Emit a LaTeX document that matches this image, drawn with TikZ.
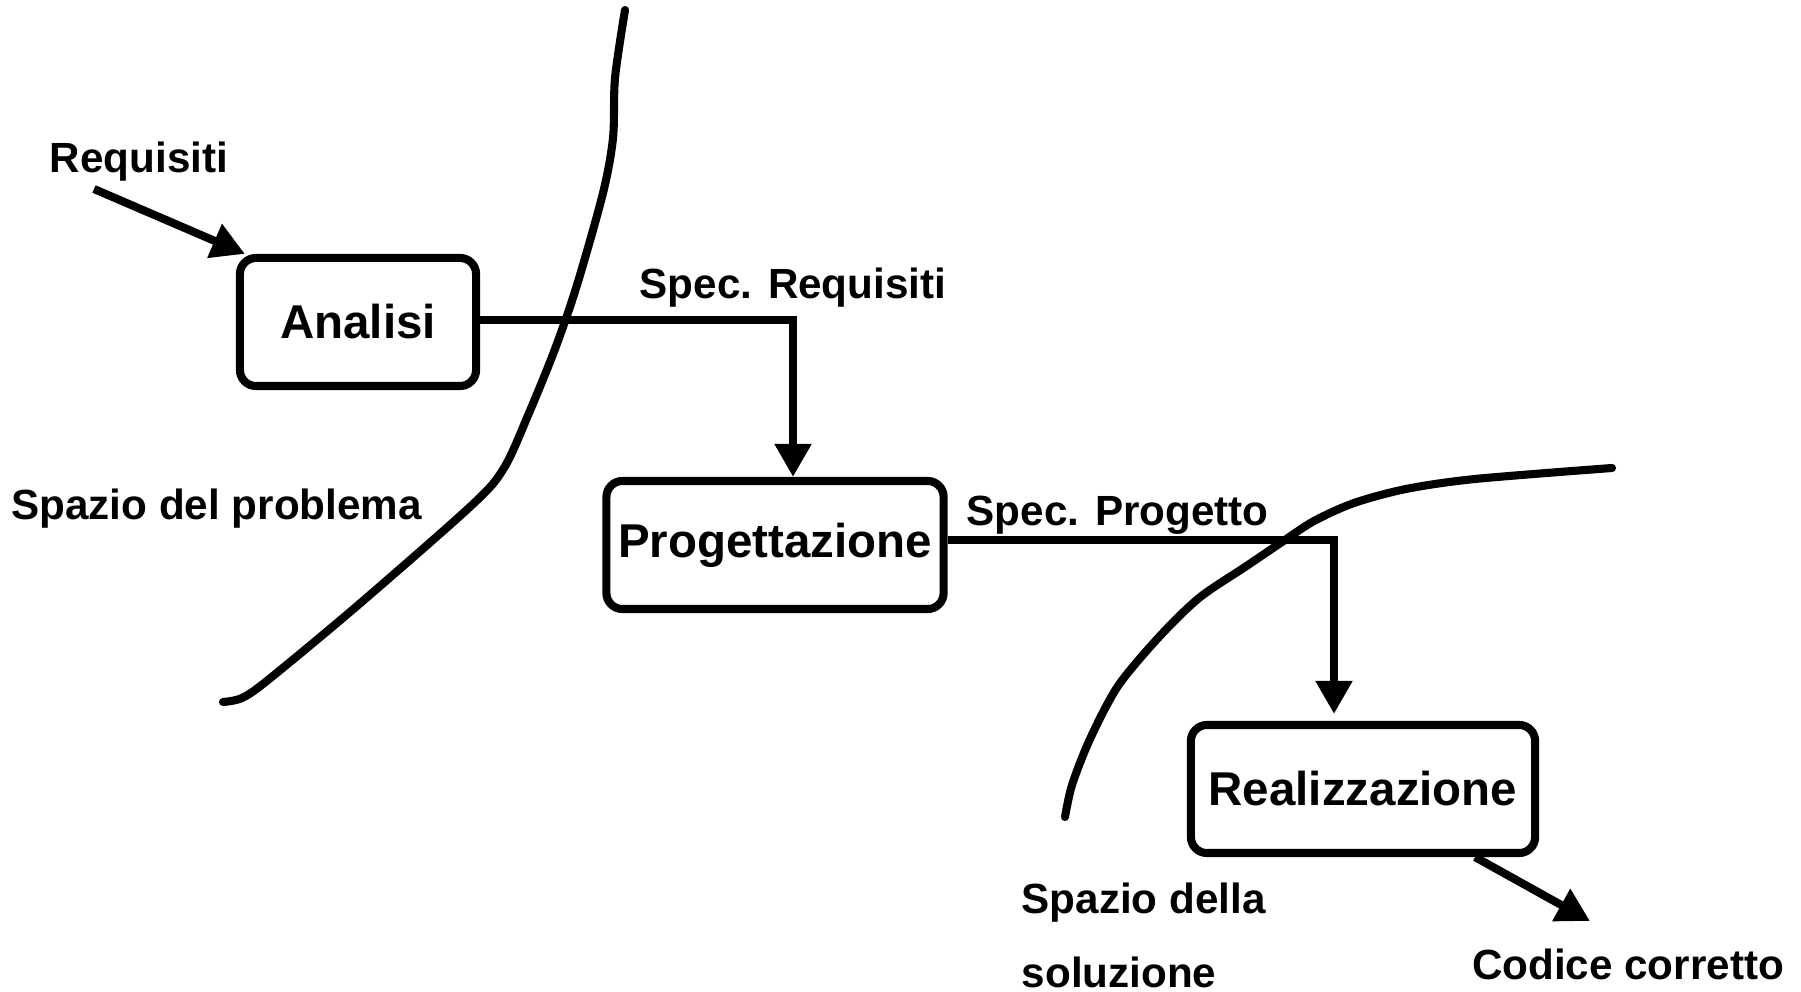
\documentclass[tikz,border=0pt]{standalone}
\usepackage{fontspec}
\setmainfont{Liberation Sans}
\usetikzlibrary{arrows.meta}

\begin{document}
\begin{tikzpicture}[
    x=0.01cm, y=-0.01cm,
    every node/.style={font=\bfseries\fontsize{12}{14}\selectfont},
    phase/.style={draw, line width=2.3pt, rounded corners=1.6mm,
                  minimum height=1.28cm, inner sep=0pt,
                  font=\bfseries\fontsize{13.5}{16}\selectfont},
    flow/.style={line width=2.3pt, -{Triangle[length=3.3mm, width=3.5mm]}},
    border/.style={line width=2.3pt, line cap=round},
    lbl/.style={above}
]
\useasboundingbox (0,0) rectangle (1801,992);

\node[phase, minimum width=2.36cm] (ana)  at (358,322)  {Analisi};
\node[phase, minimum width=3.37cm] (prog) at (775,545)  {Progettazione};
\node[phase, minimum width=3.44cm] (real) at (1363,789) {Realizzazione};

\node (req) at (139,162) {Requisiti};
\node[anchor=west] (probspace) at (-1,509) {Spazio del problema};
\node[anchor=west, align=left, inner sep=2pt] (solspace) at (1014,935) {Spazio della\\[7pt]soluzione};
\node (code) at (1628,964) {Codice corretto};

\coordinate (reqin) at (94,189);
\coordinate (codeout) at (1590,921);

\draw[flow] (reqin) -- ([xshift=0.09cm]ana.north west);
\draw[flow] ([yshift=0.02cm]ana.east) -| node[lbl, pos=0.5, inner sep=2.5pt] (specreq) {Spec. Requisiti}
    ([xshift=0.18cm]prog.north);
\draw[flow] ([yshift=0.05cm]prog.east) -| node[lbl, pos=0.22, inner sep=0.5pt] (specprog) {Spec. Progetto}
    ([xshift=-0.29cm, yshift=0.07cm]real.north);
\draw[flow] ([xshift=1.12cm]real.south) -- (codeout);

\draw[border] plot[smooth] coordinates {(625,10) (615,78) (613,138) (603,193)
    (577,285) (555,349) (529,413) (504,468) (472,505) (357,606) (268,680)
    (242,698) (223,702)};
\draw[border] plot[smooth] coordinates {(1612,468) (1475,479) (1406,489)
    (1354,503) (1314,521) (1282,542) (1245,567) (1199,598) (1159,637)
    (1118,686) (1090,739) (1072,785) (1065,817)};
\end{tikzpicture}
\end{document}
